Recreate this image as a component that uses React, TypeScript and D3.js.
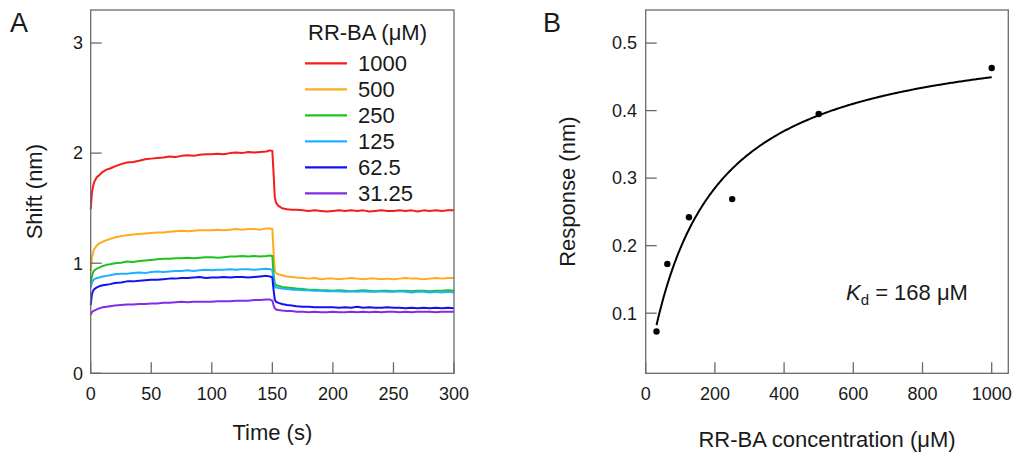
import React from "react";
import * as d3 from "d3";

// ---------- Panel A data (time course) ----------
const times = [0,1,2,3,5,7,10,13,16,20,25,30,35,40,45,50,55,60,65,70,75,80,85,90,95,100,105,110,115,120,125,130,135,140,145,148,150,151,152,153,155,158,162,166,170,175,180,185,190,195,200,205,210,215,220,225,230,235,240,245,250,255,260,265,270,275,280,285,290,295,300];

const shift1000 = [1.49,1.64,1.70,1.74,1.78,1.80,1.83,1.85,1.86,1.88,1.90,1.915,1.92,1.93,1.945,1.95,1.955,1.96,1.97,1.965,1.975,1.98,1.975,1.985,1.99,1.99,1.995,1.99,2.0,2.005,2.0,2.01,2.005,2.01,2.015,2.025,2.02,1.82,1.60,1.55,1.52,1.50,1.49,1.485,1.485,1.48,1.475,1.48,1.475,1.47,1.475,1.48,1.475,1.48,1.475,1.48,1.47,1.475,1.48,1.475,1.475,1.48,1.475,1.48,1.47,1.48,1.475,1.48,1.475,1.48,1.48];
const shift500 = [0.93,1.05,1.10,1.13,1.16,1.18,1.195,1.21,1.22,1.235,1.245,1.255,1.26,1.265,1.27,1.275,1.28,1.28,1.285,1.29,1.295,1.29,1.295,1.30,1.30,1.30,1.305,1.30,1.305,1.31,1.305,1.31,1.31,1.305,1.315,1.315,1.31,1.10,0.93,0.91,0.90,0.89,0.88,0.875,0.87,0.865,0.86,0.865,0.855,0.86,0.86,0.855,0.86,0.865,0.86,0.855,0.86,0.86,0.855,0.86,0.855,0.86,0.865,0.86,0.86,0.855,0.86,0.865,0.86,0.865,0.865];
const shift250 = [0.82,0.88,0.92,0.935,0.95,0.96,0.975,0.985,0.99,1.00,1.005,1.015,1.01,1.02,1.025,1.03,1.035,1.04,1.04,1.045,1.045,1.05,1.045,1.05,1.055,1.055,1.05,1.055,1.06,1.06,1.065,1.06,1.065,1.06,1.065,1.07,1.065,0.90,0.82,0.80,0.795,0.785,0.78,0.775,0.77,0.765,0.76,0.76,0.755,0.755,0.75,0.755,0.75,0.745,0.75,0.755,0.75,0.745,0.75,0.75,0.745,0.75,0.75,0.745,0.75,0.75,0.745,0.75,0.75,0.755,0.75];
const shift125 = [0.78,0.82,0.845,0.855,0.865,0.87,0.88,0.885,0.89,0.90,0.905,0.905,0.91,0.915,0.91,0.92,0.925,0.92,0.925,0.93,0.93,0.935,0.93,0.935,0.94,0.935,0.94,0.94,0.945,0.94,0.945,0.945,0.94,0.945,0.95,0.945,0.94,0.84,0.79,0.78,0.775,0.77,0.765,0.76,0.76,0.755,0.755,0.75,0.75,0.745,0.745,0.745,0.74,0.745,0.74,0.745,0.74,0.74,0.745,0.74,0.74,0.745,0.74,0.735,0.74,0.74,0.735,0.74,0.735,0.74,0.735];
const shift62 = [0.62,0.72,0.75,0.765,0.78,0.79,0.80,0.805,0.81,0.82,0.825,0.835,0.835,0.84,0.845,0.85,0.85,0.855,0.86,0.86,0.865,0.865,0.87,0.875,0.865,0.87,0.87,0.875,0.87,0.875,0.875,0.87,0.875,0.88,0.885,0.88,0.87,0.76,0.67,0.65,0.64,0.63,0.62,0.615,0.61,0.605,0.605,0.60,0.60,0.60,0.60,0.595,0.60,0.595,0.605,0.595,0.60,0.595,0.595,0.60,0.595,0.595,0.59,0.595,0.59,0.595,0.59,0.595,0.59,0.595,0.59];
const shift31 = [0.53,0.555,0.565,0.57,0.58,0.59,0.60,0.605,0.61,0.615,0.62,0.625,0.625,0.63,0.63,0.635,0.635,0.64,0.64,0.645,0.65,0.645,0.65,0.65,0.65,0.65,0.655,0.655,0.655,0.66,0.66,0.66,0.665,0.665,0.67,0.67,0.66,0.62,0.59,0.58,0.575,0.57,0.565,0.565,0.56,0.56,0.555,0.56,0.555,0.555,0.56,0.555,0.555,0.56,0.555,0.56,0.555,0.56,0.555,0.56,0.56,0.555,0.56,0.555,0.56,0.56,0.56,0.555,0.56,0.56,0.56];

const seriesLabels = ["1000", "500", "250", "125", "62.5", "31.25"];
const seriesColors = ["#f41c1c", "#ffab1c", "#1ec21e", "#1cb2ff", "#1212f0", "#7f2ee6"];
const seriesValues = [shift1000, shift500, shift250, shift125, shift62, shift31];

const xTicksA = [0, 50, 100, 150, 200, 250, 300];
const yTicksA = [0, 1, 2, 3];

// ---------- Panel B data (steady-state) ----------
const conc = [31.25, 62.5, 125, 250, 500, 1000];
const response = [0.073, 0.173, 0.242, 0.269, 0.395, 0.463];
const kd = 168;
const bmax = 0.525;
const xTicksB = [0, 200, 400, 600, 800, 1000];
const yTicksB = [0.1, 0.2, 0.3, 0.4, 0.5];

const FONT = "'Liberation Sans', Arial, Helvetica, sans-serif";
const TXT = "#1a1a1a";
const AX = "#6a6a6a";

export default function App() {
  // Panel A geometry
  const aL = 90.7, aR = 454, aT = 10, aB = 373.3;
  const xA = d3.scaleLinear().domain([0, 300]).range([aL, aR]);
  const yA = d3.scaleLinear().domain([0, 3.3]).range([aB, aT]);
  const lineA = d3.line<number>()
    .x((_, i) => xA(times[i]))
    .y((d) => yA(d));

  // Panel B geometry
  const bL = 645.7, bR = 1008.3, bT = 10, bB = 373.3;
  const xB = d3.scaleLinear().domain([0, 1048]).range([bL, bR]);
  const yB = d3.scaleLinear().domain([0.011, 0.549]).range([bB, bT]);
  const fitX = d3.range(31.25, 1000.01, 4).concat([1000]);
  const lineB = d3.line<number>()
    .x((c) => xB(c))
    .y((c) => yB((bmax * c) / (kd + c)))
    .curve(d3.curveMonotoneX);

  const tickLen = 11;

  return (
    <svg
      width={1018}
      height={457}
      style={{ position: "absolute", left: 0, top: 0, background: "#fff" }}
      fontFamily={FONT}
    >
      <rect x={0} y={0} width={1018} height={457} fill="#fff" />

      {/* ===== Panel A ===== */}
      <text x={10} y={32} fontSize={27} fill={TXT}>A</text>
      {seriesValues.map((vals, k) => (
        <path
          key={k}
          d={lineA(vals) || ""}
          fill="none"
          stroke={seriesColors[k]}
          strokeWidth={2}
          strokeLinejoin="round"
        />
      ))}
      <rect x={aL} y={aT} width={aR - aL} height={aB - aT} fill="none" stroke={AX} strokeWidth={1.3} />
      {xTicksA.map((t) => (
        <g key={"xa" + t}>
          <line x1={xA(t)} x2={xA(t)} y1={aB} y2={aB - tickLen} stroke={AX} strokeWidth={1.3} />
          <text x={xA(t)} y={400} textAnchor="middle" fontSize={18} fill={TXT}>{t}</text>
        </g>
      ))}
      {yTicksA.map((t) => (
        <g key={"ya" + t}>
          <line x1={aL} x2={aL + tickLen} y1={yA(t)} y2={yA(t)} stroke={AX} strokeWidth={1.3} />
          <text x={83} y={yA(t)} dy="0.35em" textAnchor="end" fontSize={18} fill={TXT}>{t}</text>
        </g>
      ))}
      <text x={(aL + aR) / 2} y={440} textAnchor="middle" fontSize={22} fill={TXT}>Time (s)</text>
      <text
        transform={`translate(42,${(aT + aB) / 2}) rotate(-90)`}
        textAnchor="middle"
        fontSize={22}
        fill={TXT}
      >
        Shift (nm)
      </text>

      {/* Legend */}
      <text x={308} y={40} fontSize={22} fill={TXT}>RR-BA (μM)</text>
      {seriesLabels.map((lab, k) => {
        const ly = 63.3 + k * 26;
        return (
          <g key={"lg" + k}>
            <line x1={305} x2={347} y1={ly} y2={ly} stroke={seriesColors[k]} strokeWidth={2.2} />
            <text x={358} y={ly} dy="0.36em" fontSize={22} fill={TXT}>{lab}</text>
          </g>
        );
      })}

      {/* ===== Panel B ===== */}
      <text x={543} y={32} fontSize={27} fill={TXT}>B</text>
      <path d={lineB(fitX) || ""} fill="none" stroke="#000" strokeWidth={2} />
      {conc.map((c, i) => (
        <circle key={"pt" + i} cx={xB(c)} cy={yB(response[i])} r={3.2} fill="#000" />
      ))}
      <rect x={bL} y={bT} width={bR - bL} height={bB - bT} fill="none" stroke={AX} strokeWidth={1.3} />
      {xTicksB.map((t) => (
        <g key={"xb" + t}>
          <line x1={xB(t)} x2={xB(t)} y1={bB} y2={bB - tickLen} stroke={AX} strokeWidth={1.3} />
          <text x={xB(t)} y={400} textAnchor="middle" fontSize={18} fill={TXT}>{t}</text>
        </g>
      ))}
      {yTicksB.map((t) => (
        <g key={"yb" + t}>
          <line x1={bL} x2={bL + tickLen} y1={yB(t)} y2={yB(t)} stroke={AX} strokeWidth={1.3} />
          <text x={637} y={yB(t)} dy="0.35em" textAnchor="end" fontSize={18} fill={TXT}>{t.toFixed(1)}</text>
        </g>
      ))}
      <text x={(bL + bR) / 2} y={447} textAnchor="middle" fontSize={22} fill={TXT}>RR-BA concentration (μM)</text>
      <text
        transform={`translate(575,${(bT + bB) / 2}) rotate(-90)`}
        textAnchor="middle"
        fontSize={22}
        fill={TXT}
      >
        Response (nm)
      </text>
      <text x={846} y={300} fontSize={22} fill={TXT}>
        <tspan fontStyle="italic">K</tspan>
        <tspan fontSize={15} dy={5}>d</tspan>
        <tspan dy={-5}>{` = ${kd} μM`}</tspan>
      </text>
    </svg>
  );
}
